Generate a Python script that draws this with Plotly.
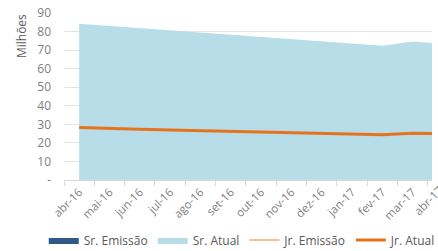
import plotly.graph_objects as go

meses = ["abr-16", "mai-16", "jun-16", "jul-16", "ago-16", "set-16", "out-16",
         "nov-16", "dez-16", "jan-17", "fev-17", "mar-17", "abr-17"]
sr_emissao = [None] * 13
sr_atual = [84.2, 83.0, 81.8, 80.6, 79.4, 78.2, 77.0, 75.8, 74.6, 73.5, 72.4, 74.6, 73.5]
jr_emissao = [None] * 13
jr_atual = [28.3, 27.7, 27.3, 27.0, 26.6, 26.3, 25.7, 25.4, 25.1, 24.8, 24.4, 25.2, 24.9]
y_ticks = [0, 10, 20, 30, 40, 50, 60, 70, 80, 90]
y_ticktext = ["-", "10", "20", "30", "40", "50", "60", "70", "80", "90"]

FONT = "Open Sans"
GRAY = "#7f7f7f"
DARK = "#595959"

fig = go.Figure()
fig.add_trace(go.Scatter(x=meses, y=sr_emissao, name="Sr. Emissão", mode="lines",
                         fill="tozeroy", fillcolor="#2E5A87", line=dict(width=0, color="#2E5A87")))
fig.add_trace(go.Scatter(x=meses, y=sr_atual, name="Sr. Atual", mode="lines",
                         fill="tozeroy", fillcolor="#B7DDE8", line=dict(width=0, color="#B7DDE8")))
fig.add_trace(go.Scatter(x=meses, y=jr_emissao, name="Jr. Emissão", mode="lines",
                         line=dict(width=2, color="#F9BE91")))
fig.add_trace(go.Scatter(x=meses, y=jr_atual, name="Jr. Atual", mode="lines",
                         line=dict(width=3, color="#E8731F")))

fig.update_layout(
    width=438, height=251,
    margin=dict(l=64, r=6, t=13, b=71, autoexpand=False),
    paper_bgcolor="white", plot_bgcolor="white",
    font=dict(family=FONT, size=12, color=GRAY),
    showlegend=True,
    legend=dict(orientation="h", x=-0.055, xanchor="left", y=-0.36, yanchor="middle",
                font=dict(family=FONT, size=12, color=DARK), traceorder="normal",
                itemwidth=30, bgcolor="rgba(0,0,0,0)"),
    xaxis=dict(type="category", categoryorder="array", categoryarray=meses,
               range=[-0.5, 11.64], tickangle=-45, tickson="boundaries",
               ticks="outside", ticklen=5, tickcolor="#d9d9d9", automargin=False,
               showline=True, linecolor="#d9d9d9", linewidth=1,
               showgrid=False, tickfont=dict(family=FONT, size=11.5, color=GRAY)),
    yaxis=dict(range=[0, 90], tickvals=y_ticks, ticktext=y_ticktext, automargin=False,
               showgrid=True, gridcolor="#e4e4e4", gridwidth=1, zeroline=False,
               showline=False, ticks="", ticklabelstandoff=12,
               tickfont=dict(family=FONT, size=12, color=GRAY)),
)

fig.add_annotation(text="Milhões", xref="paper", yref="paper", x=-0.115, y=0.86,
                   textangle=-90, showarrow=False, xanchor="center", yanchor="middle",
                   font=dict(family=FONT, size=12, color=DARK))
fig.add_annotation(text=meses[-1], xref="paper", yref="paper", x=0.99, y=-0.125,
                   textangle=-45, showarrow=False, xanchor="center", yanchor="middle",
                   font=dict(family=FONT, size=11.5, color=GRAY))

fig.write_html("out.html", config={"displayModeBar": False},
               post_script="document.body.style.margin='0';document.body.style.overflow='hidden';")
